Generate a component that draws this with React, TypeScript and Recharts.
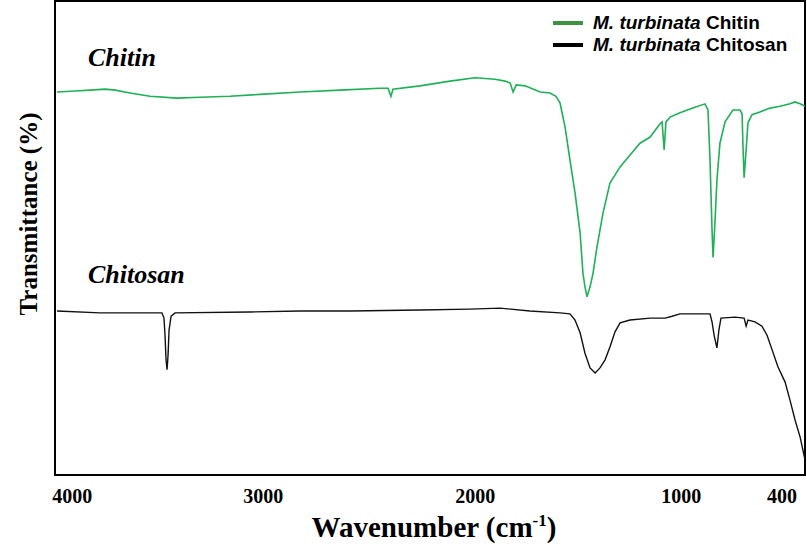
import { LineChart, Line, XAxis, YAxis, ReferenceArea } from 'recharts';

// wavenumber (cm-1) and transmittance (arbitrary %, offset traces)
const chitinWn = [4075, 3986, 3913, 3839, 3789, 3715, 3617, 3484, 3371, 3223, 3075, 2878, 2681, 2484, 2444, 2430, 2420, 2287, 2139, 2016, 1917, 1868, 1843, 1828, 1813, 1769, 1695, 1646, 1617, 1597, 1572, 1548, 1523, 1498, 1484, 1474, 1464, 1449, 1434, 1415, 1385, 1351, 1301, 1252, 1203, 1153, 1104, 1094, 1084, 1075, 1055, 1006, 932, 883, 868, 858, 848, 843, 833, 824, 809, 784, 745, 710, 700, 695, 690, 680, 671, 651, 612, 562, 513, 464, 439, 414, 390];
const chitinT = [80.8, 81.0, 81.2, 81.4, 81.2, 80.6, 79.9, 79.5, 79.7, 79.9, 80.3, 80.8, 81.2, 81.6, 81.6, 79.9, 81.4, 82.1, 83.1, 83.8, 83.5, 83.1, 82.7, 80.8, 82.3, 82.1, 80.8, 80.6, 79.9, 78.5, 73.4, 66.5, 59.5, 51.1, 42.6, 39.7, 37.6, 39.7, 42.6, 48.1, 55.3, 61.6, 65.0, 67.5, 70.0, 71.3, 74.1, 74.5, 68.6, 74.5, 75.5, 76.4, 77.6, 78.3, 77.0, 66.5, 51.7, 45.9, 53.8, 62.2, 70.0, 74.5, 77.0, 77.0, 76.2, 68.6, 62.7, 68.6, 74.3, 76.0, 76.6, 77.4, 77.8, 78.3, 78.7, 78.3, 77.8];

const chitosanWn = [4075, 3863, 3617, 3558, 3548, 3543, 3538, 3533, 3528, 3523, 3513, 3494, 3124, 2878, 2632, 2287, 2040, 1892, 1745, 1597, 1548, 1523, 1498, 1474, 1449, 1424, 1400, 1375, 1351, 1326, 1301, 1252, 1153, 1079, 1045, 1006, 858, 848, 838, 824, 814, 804, 735, 690, 680, 671, 636, 602, 577, 552, 523, 488, 464, 439, 414, 390];
const chitosanT = [34.6, 34.2, 34.2, 34.2, 33.1, 29.5, 24.3, 22.2, 25.3, 30.6, 33.5, 34.2, 34.4, 34.6, 34.6, 34.8, 35.0, 35.2, 34.6, 34.2, 34.0, 32.7, 30.0, 25.7, 22.6, 21.5, 22.6, 24.3, 27.0, 30.2, 32.1, 32.7, 33.1, 33.1, 33.5, 34.0, 34.0, 32.3, 29.5, 26.8, 30.6, 33.1, 33.3, 33.1, 31.4, 32.7, 32.3, 31.4, 29.5, 26.4, 22.8, 19.6, 15.8, 11.6, 8.0, 3.2];

const xTicks = [4000, 3000, 2000, 1000, 400];
const xDomain = [390, 4085];

const chitinData = chitinWn.map((wn, i) => ({ wn, t: chitinT[i] }));
const chitosanData = chitosanWn.map((wn, i) => ({ wn, t: chitosanT[i] }));

const SERIF = '"Liberation Serif", "Times New Roman", serif';
const SANS = '"Liberation Sans", Arial, sans-serif';

// labels in the original sit a little off the grid
const tickShift: Record<number, number> = { 3000: -12, 2000: -3 };

function XTick({ x, y, payload }: any) {
  const last = payload.value === 400;
  return (
    <text
      x={last ? x + 2 : x + (tickShift[payload.value] || 0)}
      y={y + 20}
      textAnchor={last ? 'end' : 'middle'}
      fontFamily={SERIF}
      fontWeight="bold"
      fontSize={20}
      fill="#000"
    >
      {payload.value}
    </text>
  );
}

function XLabel() {
  return (
    <text x={434} y={537} textAnchor="middle" fontFamily={SERIF} fontWeight="bold" fontSize={29} fill="#000">
      Wavenumber (cm
      <tspan dy={-11} fontSize={17}>-1</tspan>
      <tspan dy={11}>)</tspan>
    </text>
  );
}

function YLabel() {
  return (
    <text
      x={0}
      y={0}
      transform="translate(37,214) rotate(-90)"
      textAnchor="middle"
      fontFamily={SERIF}
      fontWeight="bold"
      fontSize={25}
      fill="#000"
    >
      Transmittance (%)
    </text>
  );
}

export default function App() {
  return (
    <div style={{ position: 'absolute', left: 0, top: 0, width: 807, height: 550, background: '#fff', overflow: 'hidden' }}>
      <LineChart width={807} height={550} margin={{ top: 1, right: 2, left: 0, bottom: 0 }}>
        <XAxis
          type="number"
          dataKey="wn"
          domain={xDomain}
          reversed
          ticks={xTicks}
          tickLine={false}
          axisLine={false}
          height={75}
          tick={<XTick />}
          label={<XLabel />}
          allowDataOverflow
        />
        <YAxis type="number" domain={[0, 100]} width={55} tick={false} tickLine={false} axisLine={false} label={<YLabel />} />
        <ReferenceArea x1={xDomain[0]} x2={xDomain[1]} y1={0} y2={100} fill="none" stroke="#000" strokeWidth={2} />
        <Line data={chitinData} dataKey="t" type="linear" stroke="#1fb058" strokeWidth={1.6} dot={false} isAnimationActive={false} />
        <Line data={chitosanData} dataKey="t" type="linear" stroke="#111" strokeWidth={1.4} dot={false} isAnimationActive={false} />
      </LineChart>

      <div style={{ position: 'absolute', left: 88, top: 43, fontFamily: SERIF, fontWeight: 'bold', fontStyle: 'italic', fontSize: 26 }}>Chitin</div>
      <div style={{ position: 'absolute', left: 88, top: 260, fontFamily: SERIF, fontWeight: 'bold', fontStyle: 'italic', fontSize: 26 }}>Chitosan</div>

      <div style={{ position: 'absolute', left: 553, top: 12, fontFamily: SANS, fontWeight: 'bold', fontSize: 19, lineHeight: '22px' }}>
        {[
          { name: 'Chitin', color: '#3d9140' },
          { name: 'Chitosan', color: '#000' },
        ].map((s) => (
          <div key={s.name} style={{ display: 'flex', alignItems: 'center', whiteSpace: 'nowrap' }}>
            <span style={{ display: 'inline-block', width: 30, height: 4, background: s.color, marginRight: 10 }} />
            <span>
              <i>M. turbinata</i> {s.name}
            </span>
          </div>
        ))}
      </div>
    </div>
  );
}
